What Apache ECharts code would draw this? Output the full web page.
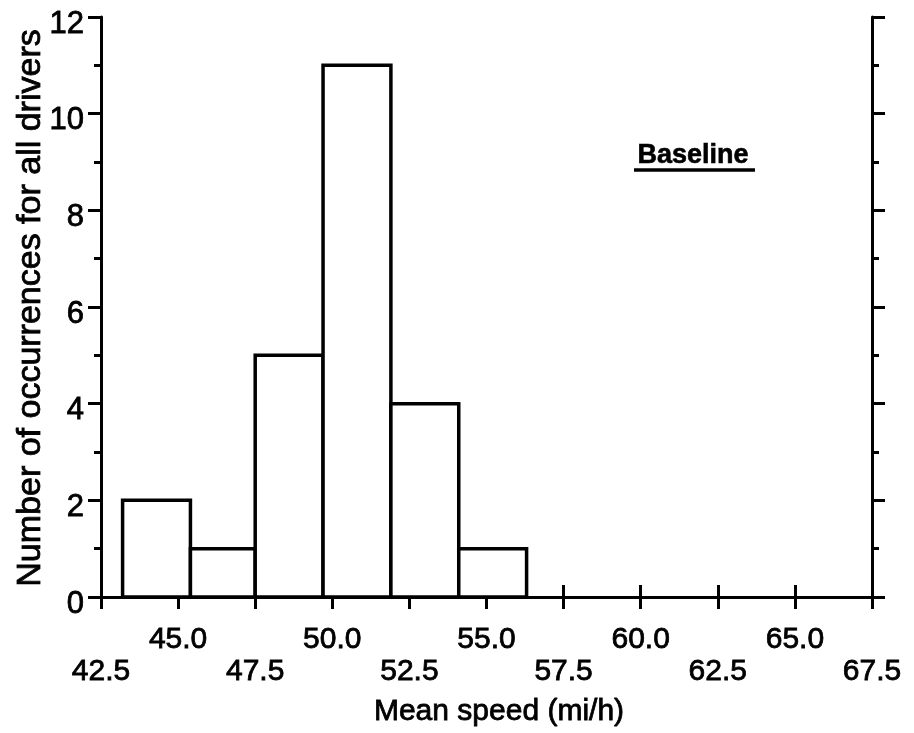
<!DOCTYPE html>
<html>
<head>
<meta charset="utf-8">
<script src="https://cdn.jsdelivr.net/npm/echarts@6/dist/echarts.min.js"></script>
<style>html,body{margin:0;padding:0;background:#fff}#c{width:914px;height:733px}</style>
</head>
<body>
<div id="c"></div>
<script>
// Histogram bin edges (mi/h) and counts
var binEdges = [43.2, 45.4, 47.5, 49.7, 51.9, 54.1, 56.3];
var counts = [2, 1, 5, 11, 4, 1];
// Tick labels on the x axis (two staggered rows)
var upperLabels = ['45.0', '50.0', '55.0', '60.0', '65.0'];
var lowerLabels = ['42.5', '47.5', '52.5', '57.5', '62.5', '67.5'];
var yLabels = ['0', '2', '4', '6', '8', '10', '12'];
var panelLabel = 'Baseline';
var xTitle = 'Mean speed (mi/h)';
var yTitle = 'Number of occurrences for all drivers';

var FONT = '"Liberation Sans", Arial, Helvetica, sans-serif';
var barData = counts.map(function (c, i) { return [binEdges[i], binEdges[i + 1], c]; });

var chart = echarts.init(document.getElementById('c'), null, { renderer: 'canvas' });
var lineStyle = { color: '#000', width: 3 };
var option = {
  backgroundColor: '#fff',
  animation: false,
  grid: { left: 101, right: 42, top: 17, bottom: 136, containLabel: false },
  xAxis: [{
    type: 'value', position: 'bottom', min: 42.5, max: 67.5, interval: 2.5,
    axisLine: { show: true, lineStyle: lineStyle },
    axisTick: { show: true, length: 12, lineStyle: lineStyle },
    splitLine: { show: false },
    axisLabel: {
      show: true, margin: 27, color: '#000', fontFamily: FONT, fontSize: 30, lineHeight: 32,
      textBorderColor: '#000', textBorderWidth: 0.8,
      formatter: function (v) {
        var s = v.toFixed(1);
        if (upperLabels.indexOf(s) >= 0) return s;
        if (lowerLabels.indexOf(s) >= 0) return '\n' + s;
        return '';
      }
    }
  }, {
    type: 'value', position: 'top', min: 42.5, max: 67.5, interval: 2.5,
    axisLine: { show: true, lineStyle: lineStyle },
    axisTick: { show: true, length: 12, lineStyle: lineStyle },
    splitLine: { show: false },
    axisLabel: { show: false }
  }],
  yAxis: [{
    type: 'value', position: 'left', min: 0, max: 12, interval: 2,
    axisLine: { show: true, lineStyle: lineStyle },
    axisTick: { show: true, length: 13, lineStyle: lineStyle },
    minorTick: { show: true, splitNumber: 2, length: 7, lineStyle: lineStyle },
    splitLine: { show: false }, minorSplitLine: { show: false },
    axisLabel: {
      show: true, margin: 17, color: '#000',
      formatter: function (v) { var s = String(Math.round(v)); return yLabels.indexOf(s) >= 0 ? '{v|' + s + '}' : ''; },
      rich: {
        v: {
          fontFamily: FONT, fontSize: 31, color: '#000',
          textBorderColor: '#000', textBorderWidth: 0.8,
          padding: [14, 0, 0, 0]
        }
      }
    }
  }, {
    type: 'value', position: 'right', min: 0, max: 12, interval: 2,
    axisLine: { show: true, lineStyle: lineStyle },
    axisTick: { show: true, length: 13, lineStyle: lineStyle },
    minorTick: { show: true, splitNumber: 2, length: 7, lineStyle: lineStyle },
    splitLine: { show: false }, minorSplitLine: { show: false },
    axisLabel: { show: false }
  }],
  series: [{
    type: 'custom',
    xAxisIndex: 0, yAxisIndex: 0,
    data: barData,
    encode: { x: [0, 1], y: 2 },
    renderItem: function (params, api) {
      var x0 = api.value(0), x1 = api.value(1), y = api.value(2);
      var pTop = api.coord([x0, y]);
      var pBot = api.coord([x1, 0]);
      return {
        type: 'rect',
        shape: { x: pTop[0], y: pTop[1], width: pBot[0] - pTop[0], height: pBot[1] - pTop[1] },
        style: { fill: '#fff', stroke: '#000', lineWidth: 3.5 }
      };
    },
    z: 3
  }],
  graphic: [
    {
      type: 'text', x: 499, y: 712,
      style: { text: xTitle, font: '30px ' + FONT, fill: '#000', stroke: '#000', lineWidth: 0.8, textAlign: 'center', textVerticalAlign: 'middle' }
    },
    {
      type: 'text', x: 31, y: 308, rotation: Math.PI / 2,
      style: { text: yTitle, font: '34px ' + FONT, fill: '#000', stroke: '#000', lineWidth: 0.8, textAlign: 'center', textVerticalAlign: 'middle' }
    },
    {
      type: 'text', x: 693, y: 156,
      style: { text: panelLabel, font: 'bold 27px ' + FONT, fill: '#000', stroke: '#000', lineWidth: 0.6, textAlign: 'center', textVerticalAlign: 'middle' }
    },
    {
      type: 'line', shape: { x1: 634, y1: 170, x2: 755, y2: 170 },
      style: { stroke: '#000', lineWidth: 3.5 }
    }
  ]
};
chart.setOption(option);
</script>
</body>
</html>
